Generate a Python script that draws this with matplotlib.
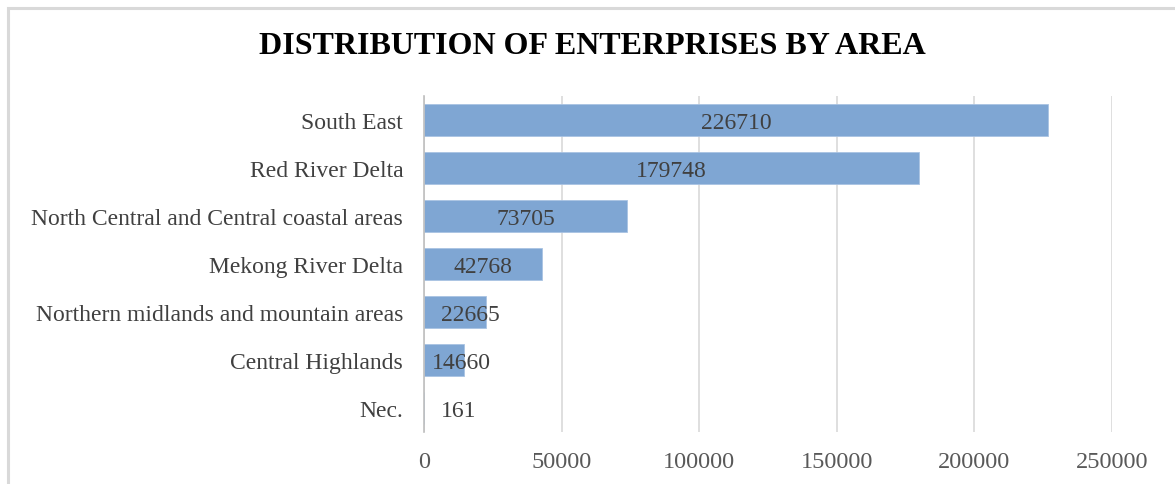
import matplotlib
matplotlib.use("Agg")
import matplotlib.pyplot as plt
from matplotlib.patches import Rectangle

areas = ["South East", "Red River Delta", "North Central and Central coastal areas",
         "Mekong River Delta", "Northern midlands and mountain areas",
         "Central Highlands", "Nec."]
enterprises = [226710, 179748, 73705, 42768, 22665, 14660, 161]
xticks = [0, 50000, 100000, 150000, 200000, 250000]

plt.rcParams["font.family"] = ["Liberation Serif", "DejaVu Serif"]

fig = plt.figure(figsize=(11.75, 4.85), dpi=100)
ax = fig.add_axes([424 / 1175, 1 - 433 / 485, (1112 - 424) / 1175, (433 - 97) / 485])

# light frame around the whole chart area
fig.patches.append(Rectangle((8 / 1175, -0.05), 1.2, 1 - 9 / 485 + 0.05,
                             transform=fig.transFigure, fill=False,
                             edgecolor="#d9d9d9", lw=2.2))

y = list(range(len(areas)))
ax.barh(y, enterprises, height=0.67, color="#7fa6d3", edgecolor="#a9c3e3", lw=0.6, zorder=2)
ax.set_ylim(len(areas) - 0.5, -0.5)
ax.set_xlim(0, 250000)
ax.set_yticks(y)
ax.set_yticklabels(areas, fontsize=17, color="#404040")
ax.set_xticks(xticks)
ax.set_xticklabels([str(t) for t in xticks], fontsize=17.5, color="#595959")
ax.tick_params(length=0)
ax.tick_params(axis="y", pad=15)
ax.tick_params(axis="x", pad=14)
ax.grid(axis="x", color="#d9d9d9", lw=1.2, zorder=0)
for s in ["top", "right", "bottom"]:
    ax.spines[s].set_visible(False)
ax.spines["left"].set_color("#bfbfbf")
ax.spines["left"].set_linewidth(1.2)

# values centred in the bar; short bars get the label just past the axis
for yi, v in zip(y, enterprises):
    if v > 40000:
        ax.text(v / 2, yi + 0.05, str(v), ha="center", va="center",
                fontsize=17, color="#404040", zorder=3)
    else:
        off = 8 if 10000 < v < 20000 else 17
        ax.annotate(str(v), (0, yi + 0.05), xytext=(off, 0),
                    textcoords="offset pixels", ha="left", va="center",
                    fontsize=17, color="#404040", zorder=3)

fig.text(592 / 1175, 1 - 46 / 485, "DISTRIBUTION OF ENTERPRISES BY AREA",
         ha="center", va="center", fontsize=23, fontweight="bold", color="black")

fig.savefig("out.png", dpi=100)
